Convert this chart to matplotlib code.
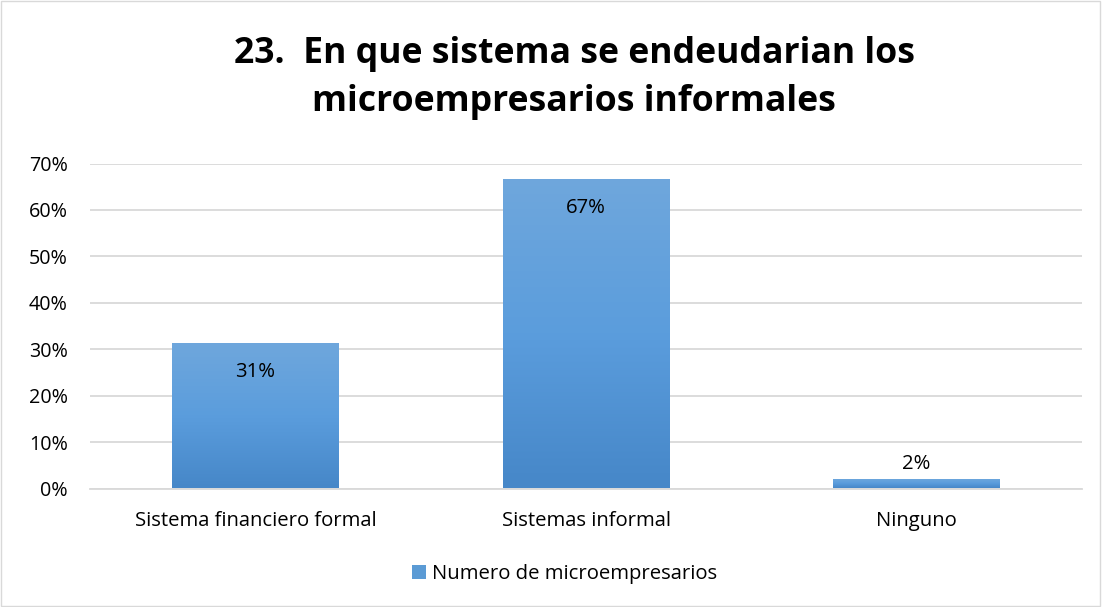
import numpy as np
import matplotlib
matplotlib.use("Agg")
import matplotlib.pyplot as plt
from matplotlib.colors import LinearSegmentedColormap
from matplotlib.patches import Rectangle

plt.rcParams['font.family'] = ['Open Sans', 'DejaVu Sans']

# Data
categories = ["Sistema financiero formal", "Sistemas informal", "Ninguno"]
values = [31.4, 66.7, 2.0]
labels = ["31%", "67%", "2%"]
y_ticks = [0, 10, 20, 30, 40, 50, 60, 70]
series_name = "Numero de microempresarios"
title = "23.  En que sistema se endeudarian los\nmicroempresarios informales"

fig = plt.figure(figsize=(11.02, 6.07), dpi=100)
ax = fig.add_axes([90 / 1102, 1 - 488.5 / 607, 992 / 1102, 325 / 607])

grad = LinearSegmentedColormap.from_list("bar", ["#4687c8", "#5b9ddd", "#6fa7dc"])
x = np.arange(len(categories))
bars = ax.bar(x, values, width=0.505, color="#5b9bd5", zorder=2)
for b in bars:
    bx, by = b.get_x(), b.get_y()
    w, h = b.get_width(), b.get_height()
    img = ax.imshow(np.linspace(0, 1, 256).reshape(-1, 1), cmap=grad, origin="lower",
                    extent=[bx, bx + w, by, by + h], aspect="auto", zorder=3)
    img.set_clip_path(b)
    b.set_facecolor("none")

ax.set_xlim(-0.5, 2.5)
ax.set_ylim(0, 70)
ax.set_yticks(y_ticks)
ax.set_yticklabels([f"{t}%" for t in y_ticks])
ax.set_xticks(x)
ax.set_xticklabels(categories)
ax.tick_params(axis="both", length=0, colors="#000000")
ax.tick_params(axis="x", pad=16, labelsize=14.6)
ax.tick_params(axis="y", pad=16, labelsize=14.2)
ax.grid(axis="y", color="#d9d9d9", linewidth=1.3, zorder=0)
for s in ["top", "right", "left"]:
    ax.spines[s].set_visible(False)
ax.spines["bottom"].set_color("#d9d9d9")
ax.spines["bottom"].set_linewidth(1.3)

for xi, v, lab in zip(x, values, labels):
    if v > 10:
        ax.text(xi, v - 6.2, lab, ha="center", va="center", fontsize=14.6, zorder=4)
    else:
        ax.text(xi, v + 3.2, lab, ha="center", va="center", fontsize=14.6, zorder=4)

fig.text(0.521, 1 - 78 / 607, title, ha="center", va="center", fontsize=25.7,
         fontweight="bold", linespacing=1.42)

handle = Rectangle((0, 0), 1, 1, facecolor="#5b9bd5")
fig.legend([handle], [series_name], loc="center", bbox_to_anchor=(0.512, 1 - 574 / 607),
           frameon=False, fontsize=14.6, handlelength=0.7, handleheight=0.7,
           handletextpad=0.3)

fig.patches.append(Rectangle((0.001, 0.001), 0.997, 0.997, transform=fig.transFigure,
                             fill=False, edgecolor="#d9d9d9", linewidth=1))

fig.savefig("out.png", dpi=100)
